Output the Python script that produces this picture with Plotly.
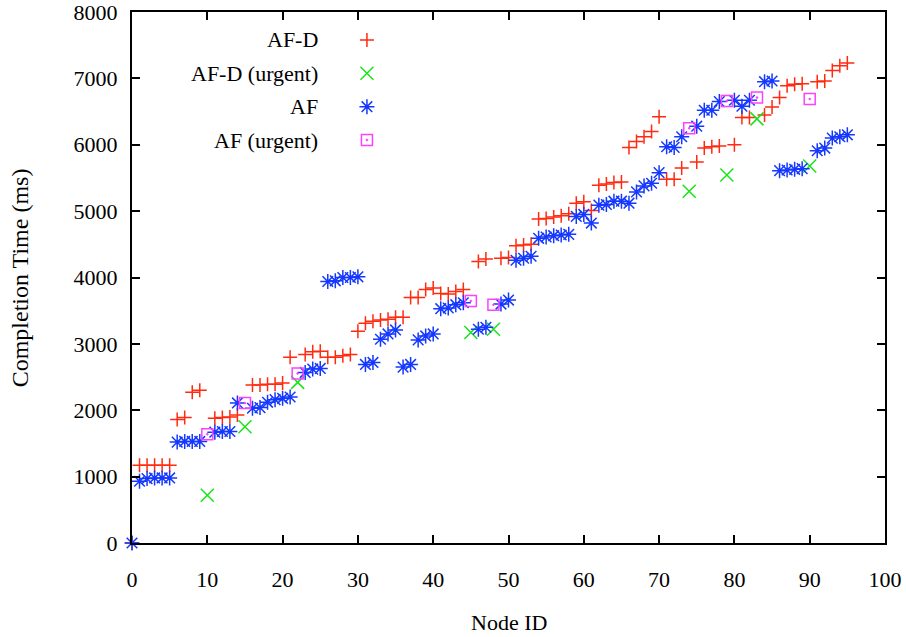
import plotly.graph_objects as go

# ---- data: completion time (ms) per node ----
afd_nodes = [0, 1, 2, 3, 4, 5, 6, 7, 8, 9, 11, 12, 13, 14, 16, 17, 18, 19, 20, 21,
             23, 24, 25, 26, 27, 28, 29, 30, 31, 32, 33, 34, 35, 36, 37, 38, 39, 40,
             41, 42, 43, 44, 46, 47, 49, 50, 51, 52, 53, 54, 55, 56, 57, 58, 59, 60,
             61, 62, 63, 64, 65, 66, 67, 68, 69, 70, 71, 72, 73, 75, 76, 77, 78, 80,
             81, 82, 84, 85, 86, 87, 88, 89, 91, 92, 93, 94, 95]
afd_times = [0, 1170, 1170, 1170, 1170, 1170, 1860, 1890, 2270, 2300, 1880, 1890, 1900, 1930,
             2380, 2380, 2390, 2390, 2410, 2800,
             2840, 2880, 2890, 2800, 2800, 2820, 2840, 3190, 3310, 3340, 3360, 3370, 3400, 3400,
             3700, 3700, 3820, 3840,
             3760, 3750, 3790, 3820, 4240, 4280, 4290, 4300, 4480, 4490, 4500,
             4880, 4890, 4910, 4930, 4960, 5120, 5140,
             5010, 5390, 5410, 5430, 5440, 5960, 6050, 6120, 6200, 6420,
             5480, 5480, 5650, 5740, 5950, 5970, 5980, 6000,
             6410, 6410, 6450, 6570, 6710, 6890, 6910, 6920, 6950, 6960, 7120, 7190, 7230]

afd_urgent_nodes = [10, 15, 22, 45, 48, 74, 79, 83, 90]
afd_urgent_times = [720, 1750, 2420, 3170, 3220, 5300, 5545, 6390, 5680]

af_nodes = [0, 1, 2, 3, 4, 5, 6, 7, 8, 9, 11, 12, 13, 14, 16, 17, 18, 19, 20, 21,
            23, 24, 25, 26, 27, 28, 29, 30, 31, 32, 33, 34, 35, 36, 37, 38, 39, 40,
            41, 42, 43, 44, 46, 47, 49, 50, 51, 52, 53, 54, 55, 56, 57, 58, 59, 60,
            61, 62, 63, 64, 65, 66, 67, 68, 69, 70, 71, 72, 73, 75, 76, 77, 78, 80,
            81, 82, 84, 85, 86, 87, 88, 89, 91, 92, 93, 94, 95]
af_times = [0, 930, 970, 980, 980, 980, 1520, 1530, 1530, 1530, 1670, 1680, 1680, 2110,
            2030, 2040, 2120, 2160, 2180, 2200,
            2570, 2620, 2630, 3940, 3950, 4000, 4000, 4010, 2690, 2720, 3070, 3150, 3210,
            2650, 2690, 3060, 3120, 3150,
            3530, 3540, 3590, 3620, 3220, 3250, 3600, 3660, 4260, 4290, 4320,
            4590, 4610, 4630, 4640, 4650, 4920, 4950,
            4820, 5090, 5100, 5150, 5150, 5120, 5290, 5380, 5420, 5580,
            5970, 5960, 6120, 6280, 6520, 6520, 6650, 6670,
            6580, 6670, 6950, 6960, 5610, 5620, 5630, 5640, 5910, 5950, 6100, 6120, 6150]

af_urgent_nodes = [10, 15, 22, 45, 48, 74, 79, 83, 90]
af_urgent_times = [1640, 2110, 2555, 3645, 3590, 6250, 6660, 6710, 6690]

x_ticks = [0, 10, 20, 30, 40, 50, 60, 70, 80, 90, 100]
y_ticks = [0, 1000, 2000, 3000, 4000, 5000, 6000, 7000, 8000]

series_names = ["AF-D", "AF-D (urgent)", "AF", "AF (urgent)"]

# ---- styles ----
FONT = "Liberation Serif"
styles = [
    dict(symbol="cross-thin-open", size=10, color="#ff2a10"),
    dict(symbol="x-thin-open", size=13, color="#18e418"),
    dict(symbol="asterisk-open", size=12.5, color="#1538ff"),
    dict(symbol="square-open-dot", size=11, color="#ff40ff"),
]
LW = 1.5

fig = go.Figure()

series = [(afd_nodes, afd_times), (afd_urgent_nodes, afd_urgent_times),
          (af_nodes, af_times), (af_urgent_nodes, af_urgent_times)]

for (xs, ys), name, st in zip(series, series_names, styles):
    fig.add_trace(go.Scatter(
        x=xs, y=ys, mode="markers", name=name, showlegend=False,
        cliponaxis=False,
        marker=dict(symbol=st["symbol"], size=st["size"], color=st["color"],
                    line=dict(width=LW, color=st["color"])),
    ))

# key: label text right-aligned, symbol to its right (in normalised plot coords)
key_rows_y = [0.9473, 0.8845, 0.8217, 0.7589]
key_sym_x = 0.312
key_text_x = 0.2495
for name, st, ky in zip(series_names, styles, key_rows_y):
    fig.add_trace(go.Scatter(
        x=[key_sym_x], y=[ky], xaxis="x2", yaxis="y2", mode="markers",
        showlegend=False, hoverinfo="skip", cliponaxis=False,
        marker=dict(symbol=st["symbol"], size=st["size"], color=st["color"],
                    line=dict(width=LW, color=st["color"])),
    ))
    fig.add_annotation(x=key_text_x, y=ky, xref="paper", yref="paper",
                       text=name, showarrow=False, xanchor="right", yanchor="middle",
                       font=dict(family=FONT, size=22, color="black"))

axis_common = dict(
    showline=True, linecolor="black", linewidth=2, mirror="ticks",
    ticks="inside", ticklen=8, tickwidth=1.5, tickcolor="black",
    showgrid=False, zeroline=False, automargin=False,
    ticklabeloverflow="allow",
    tickfont=dict(family=FONT, size=22, color="black"),
)

fig.update_layout(
    width=906, height=637,
    margin=dict(l=132, r=21, t=12, b=94),
    paper_bgcolor="white", plot_bgcolor="white",
    xaxis=dict(range=[0, 100], tickvals=x_ticks, ticktext=[str(v) for v in x_ticks],
               ticklabelstandoff=16, **axis_common),
    yaxis=dict(range=[0, 8000], tickvals=y_ticks, ticktext=[str(v) for v in y_ticks],
               ticklabelstandoff=8, **axis_common),
    xaxis2=dict(overlaying="x", range=[0, 1], visible=False),
    yaxis2=dict(overlaying="y", range=[0, 1], visible=False),
    showlegend=False,
)

fig.add_annotation(x=0.5, y=-0.149, xref="paper", yref="paper", text="Node ID",
                   showarrow=False, xanchor="center", yanchor="middle",
                   font=dict(family=FONT, size=22, color="black"))
fig.add_annotation(x=-0.149, y=0.5, xref="paper", yref="paper",
                   text="Completion Time (ms)", textangle=-90,
                   showarrow=False, xanchor="center", yanchor="middle",
                   font=dict(family=FONT, size=24, color="black"))

fig.write_html("out.html")
